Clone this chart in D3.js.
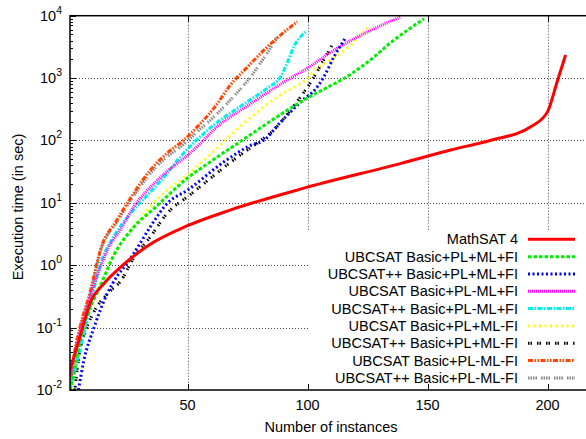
<!DOCTYPE html>
<html>
<head>
<meta charset="utf-8">
<script src="https://cdn.jsdelivr.net/npm/d3@7"></script>
<style>
	body { margin: 0; background: #fff; }
	svg text { font-family: "Liberation Sans", Arial, sans-serif; fill: #000; }
</style>
</head>
<body>
<div id="chart"></div>
<script>
// series values: [number of instances, seconds]
var mathsat4 = [[1,0.021],[4,0.05],[10,0.28],[15,0.5],[23,1.0],[33,2.0],[50,4.3],[68,7.7],[97,16.6],[139,43],[160,71],[176,100],[193,166],[200,290],[204,880],[207.5,2340]];
var ubcBasicPlMlFi = [[1,0.01],[2.4,0.016],[5,0.056],[8,0.15],[13.5,0.45],[19.3,1.46],[27.6,4.1],[36,8.1],[50,25],[60,47],[75,115],[88,250],[100,480],[110,770],[114,930],[125,1800],[135,3800],[148.5,8900]];
var ubcppBasicPlMlFi = [[4.5,0.01],[6.8,0.03],[11,0.1],[16.5,0.35],[21,0.7],[25,1.1],[27.6,1.55],[34.6,4.2],[41.5,9.8],[50,16],[65,45],[75,79],[83,110],[87,166],[93,290],[99,480],[102.6,620],[106.8,1050],[111,2200],[115.6,4300]];
var ubcBasicPlNoMlFi = [[1,0.015],[2.4,0.03],[5.1,0.08],[7.9,0.19],[10.7,0.45],[13.5,0.9],[17,1.9],[22,3.7],[27.6,8.7],[34.6,18],[41.5,32],[48.5,52],[55.4,90],[61,150],[75,360],[88.75,800],[100,1450],[111,2800],[125,5500],[138.75,9600]];
var ubcppBasicPlNoMlFi = [[1,0.01],[3.75,0.027],[7.9,0.12],[13.75,1.07],[19.3,2.9],[27.6,7.8],[34.6,15],[41.5,30],[47,55],[52.6,92],[61,178],[75,420],[83.2,690],[88.75,1050],[91.5,1750],[94.3,3200],[99.2,5500]];
var ubcBasicPlMlNoFi = [[1,0.01],[3,0.02],[5,0.06],[8,0.16],[13.5,0.5],[19.3,1.46],[27.6,4.2],[34.6,8.8],[41.5,16],[50,28],[57,49],[61,68],[75,213],[88.75,540],[100,1000],[104,1450],[109.6,1950],[113.75,2500],[118,3400],[122.8,5200],[125.8,6700]];
var ubcppBasicPlMlNoFi = [[3,0.01],[5,0.04],[8,0.1],[11,0.18],[17.6,0.38],[22,0.55],[27.5,1.3],[34.6,2.9],[41.5,6.8],[51,13.4],[71,55],[79,91],[86,148],[93,310],[98,560],[102,940],[106,1750],[110.3,3400]];
var ubcBasicPlNoMlNoFi = [[1,0.01],[2.4,0.03],[5.1,0.1],[9.3,0.36],[13.75,1.8],[20.7,5.4],[27.6,14.4],[34.6,34],[41.5,63],[48.5,102],[54,165],[61,330],[67.9,780],[74.9,1500],[81.8,2800],[88.75,4900],[95.7,8000]];
var ubcppBasicPlNoMlNoFi = [[1,0.01],[2.4,0.028],[5.1,0.09],[9.3,0.33],[13.75,1.7],[20.7,5],[27.6,13],[34.6,30],[41.5,55],[47.1,79],[54,138],[61,240],[67.9,450],[74.9,900],[81.8,2100],[87.5,4600]];

var seriesNames = ["MathSAT 4", "UBCSAT Basic+PL+ML+FI", "UBCSAT++ Basic+PL+ML+FI", "UBCSAT Basic+PL-ML+FI", "UBCSAT++ Basic+PL-ML+FI", "UBCSAT Basic+PL+ML-FI", "UBCSAT++ Basic+PL+ML-FI", "UBCSAT Basic+PL-ML-FI", "UBCSAT++ Basic+PL-ML-FI"];
var seriesValues = [mathsat4, ubcBasicPlMlFi, ubcppBasicPlMlFi, ubcBasicPlNoMlFi, ubcppBasicPlNoMlFi, ubcBasicPlMlNoFi, ubcppBasicPlMlNoFi, ubcBasicPlNoMlNoFi, ubcppBasicPlNoMlNoFi];

var xTicks = [50, 100, 150, 200];
var yTicks = [0.01, 0.1, 1, 10, 100, 1000, 10000];

// line styles (gnuplot-ish)
var colors = ["#ff0000", "#00ee00", "#0000ff", "#ff00ff", "#00eeee", "#ffff00", "#000000", "#ff4500", "#888888"];
var dashes = [null, "3.5,2", "2,2.5", "1,1", "5,1.5,1.5,1.5", "2,3.5", "1.5,1,1.5,5", "5,1.5,1.5,1.5,1.5,1.5", "1.5,1,1.5,1,1.5,1,1.5,4"];

var W = 586, H = 439;
// plot frame ("top" is taken by window.top, so prefix these)
var plotLeft = 70, plotRight = 607.6, plotTop = 15.7, plotBottom = 390;

var svg = d3.select("#chart").append("svg")
	.attr("width", W)
	.attr("height", H);

var x = d3.scaleLinear().domain([1, 225]).range([plotLeft, plotRight]);
var y = d3.scaleLog().domain([0.01, 10000]).range([plotBottom, plotTop]);

function px(v) { return Math.round(v) + 0.5; }

// grid
var grid = svg.append("g")
	.attr("stroke", "#444")
	.attr("stroke-width", 1)
	.attr("stroke-dasharray", "1,2");
grid.selectAll("line.gx").data(xTicks).enter().append("line")
	.attr("x1", function (d) { return px(x(d)); })
	.attr("x2", function (d) { return px(x(d)); })
	.attr("y1", plotTop).attr("y2", plotBottom);
grid.selectAll("line.gy").data(yTicks.slice(1, -1)).enter().append("line")
	.attr("x1", plotLeft).attr("x2", plotRight)
	.attr("y1", function (d) { return px(y(d)); })
	.attr("y2", function (d) { return px(y(d)); });

// legend box is opaque, it hides the grid
var legendTop = 230;
svg.append("rect")
	.attr("x", 308).attr("y", legendTop)
	.attr("width", plotRight - 308).attr("height", plotBottom - legendTop)
	.attr("fill", "#fff");

// ticks
var ticks = svg.append("g").attr("stroke", "#000").attr("stroke-width", 1);
ticks.selectAll("line.bx").data(xTicks).enter().append("line")
	.attr("x1", function (d) { return px(x(d)); })
	.attr("x2", function (d) { return px(x(d)); })
	.attr("y1", plotBottom).attr("y2", plotBottom - 6);
ticks.selectAll("line.tx").data(xTicks).enter().append("line")
	.attr("x1", function (d) { return px(x(d)); })
	.attr("x2", function (d) { return px(x(d)); })
	.attr("y1", plotTop).attr("y2", plotTop + 6);

var minor = [];
for (var e = -2; e < 4; e++) {
	for (var m = 2; m < 10; m++) {
		minor.push(m * Math.pow(10, e));
	}
}
ticks.selectAll("line.my").data(minor).enter().append("line")
	.attr("x1", plotLeft).attr("x2", plotLeft + 3)
	.attr("y1", function (d) { return px(y(d)); })
	.attr("y2", function (d) { return px(y(d)); });
ticks.selectAll("line.My").data(yTicks).enter().append("line")
	.attr("x1", plotLeft).attr("x2", plotLeft + 6)
	.attr("y1", function (d) { return px(y(d)); })
	.attr("y2", function (d) { return px(y(d)); });

// tick labels
svg.selectAll("text.xl").data(xTicks).enter().append("text")
	.attr("x", function (d) { return x(d); })
	.attr("y", 410)
	.attr("text-anchor", "middle")
	.attr("font-size", "14.5px")
	.text(function (d) { return d; });

var yl = svg.selectAll("text.yl").data(yTicks).enter().append("text")
	.attr("x", 62)
	.attr("y", function (d) { return y(d) + 5; })
	.attr("text-anchor", "end")
	.attr("font-size", "14.5px");
yl.append("tspan").text("10");
yl.append("tspan")
	.attr("dy", -7)
	.attr("font-size", "10.5px")
	.text(function (d) { return Math.round(Math.log10(d)); });

// axis titles
svg.append("text")
	.attr("x", 331).attr("y", 432)
	.attr("text-anchor", "middle")
	.attr("font-size", "14.5px")
	.text("Number of instances");
svg.append("text")
	.attr("transform", "translate(23,207) rotate(-90)")
	.attr("text-anchor", "middle")
	.attr("font-size", "14.5px")
	.text("Execution time (in sec)");

// curves
var line = d3.line()
	.x(function (d) { return x(d[0]); })
	.y(function (d) { return y(d[1]); })
	.curve(d3.curveMonotoneX);

svg.append("defs").append("clipPath").attr("id", "plot")
	.append("rect").attr("x", plotLeft).attr("y", plotTop)
	.attr("width", plotRight - plotLeft).attr("height", plotBottom - plotTop);

var curves = svg.append("g").attr("clip-path", "url(#plot)");
for (var i = seriesValues.length - 1; i >= 0; i--) {
	curves.append("path")
		.attr("d", line(seriesValues[i]))
		.attr("fill", "none")
		.attr("stroke", colors[i])
		.attr("stroke-width", 3)
		.attr("stroke-dasharray", dashes[i]);
}

// legend
var rowH = 17.33;
var key = svg.append("g");
for (var k = 0; k < seriesNames.length; k++) {
	var cy = 239.3 + k * rowH;
	key.append("text")
		.attr("x", 518).attr("y", cy + 5)
		.attr("text-anchor", "end")
		.attr("font-size", "14.5px")
		.text(seriesNames[k]);
	key.append("line")
		.attr("x1", 528).attr("x2", 575)
		.attr("y1", cy).attr("y2", cy)
		.attr("stroke", colors[k])
		.attr("stroke-width", 3)
		.attr("stroke-dasharray", dashes[k]);
}

// border
svg.append("rect")
	.attr("x", plotLeft).attr("y", plotTop)
	.attr("width", plotRight - plotLeft).attr("height", plotBottom - plotTop)
	.attr("fill", "none")
	.attr("stroke", "#000")
	.attr("stroke-width", 1.5);
</script>
</body>
</html>
